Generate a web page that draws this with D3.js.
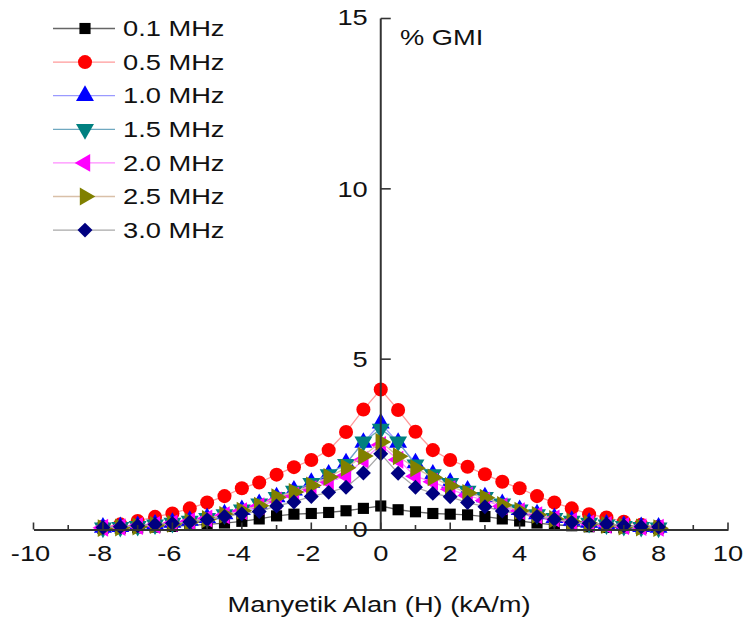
<!DOCTYPE html>
<html><head><meta charset="utf-8">
<script src="https://cdn.jsdelivr.net/npm/d3@7"></script>
<style>body{margin:0;background:#fff}svg{display:block}text{font-family:"Liberation Sans",Arial,sans-serif;fill:#111}</style>
</head><body>
<svg id="c" width="747" height="622"></svg>
<script>
const H = [-8,-7.5,-7,-6.5,-6,-5.5,-5,-4.5,-4,-3.5,-3,-2.5,-2,-1.5,-1,-0.5,0,0.5,1,1.5,2,2.5,3,3.5,4,4.5,5,5.5,6,6.5,7,7.5,8];
const f01 = [0.03,0.04,0.05,0.07,0.09,0.12,0.15,0.19,0.24,0.31,0.40,0.45,0.47,0.50,0.55,0.62,0.69,0.58,0.52,0.47,0.45,0.43,0.38,0.31,0.25,0.19,0.14,0.11,0.08,0.06,0.05,0.04,0.03];
const f05 = [0.08,0.15,0.25,0.37,0.47,0.62,0.79,0.98,1.21,1.38,1.61,1.83,2.04,2.33,2.86,3.52,4.11,3.51,2.87,2.33,2.04,1.84,1.62,1.40,1.21,0.98,0.79,0.62,0.45,0.35,0.23,0.14,0.08];
const f10 = [0.06,0.08,0.11,0.15,0.20,0.26,0.34,0.45,0.58,0.75,0.95,1.15,1.38,1.62,1.95,2.55,3.12,2.55,1.95,1.62,1.38,1.15,0.95,0.75,0.58,0.45,0.34,0.26,0.20,0.15,0.11,0.08,0.06];
const f15 = [0.05,0.07,0.10,0.14,0.19,0.25,0.33,0.44,0.58,0.76,0.95,1.13,1.36,1.62,1.92,2.58,2.95,2.58,1.90,1.62,1.36,1.13,0.95,0.76,0.58,0.44,0.33,0.25,0.19,0.14,0.10,0.07,0.05];
const f20 = [0.05,0.07,0.10,0.13,0.18,0.24,0.32,0.42,0.54,0.68,0.85,1.00,1.18,1.40,1.58,2.05,2.48,2.05,1.56,1.40,1.18,1.00,0.85,0.68,0.54,0.42,0.32,0.24,0.18,0.13,0.10,0.07,0.05];
const f25 = [0.04,0.06,0.09,0.13,0.17,0.23,0.31,0.43,0.55,0.70,0.95,1.10,1.29,1.54,1.81,2.16,2.57,2.15,1.80,1.53,1.28,1.07,0.93,0.72,0.55,0.43,0.31,0.23,0.17,0.13,0.09,0.06,0.04];
const f30 = [0.06,0.08,0.11,0.15,0.18,0.22,0.29,0.38,0.46,0.53,0.69,0.81,0.97,1.09,1.24,1.66,2.22,1.65,1.24,1.06,0.96,0.79,0.67,0.54,0.46,0.38,0.30,0.21,0.18,0.16,0.11,0.08,0.07];
const seriesNames = ["0.1 MHz","0.5 MHz","1.0 MHz","1.5 MHz","2.0 MHz","2.5 MHz","3.0 MHz"];
const seriesValues = [f01,f05,f10,f15,f20,f25,f30];
const markerColors = ["#000000","#ff0000","#0000ff","#008080","#ff00ff","#808000","#000080"];
const lineColors = ["#666666","#ff9a9a","#9a9aff","#6fa8c0","#ff8cff","#d9c0a8","#a8a8a8"];
const markerTypes = ["square","circle","up","down","left","right","diamond"];
const xTicks = [-10,-8,-6,-4,-2,0,2,4,6,8,10];
const yTicks = [0,5,10,15];

const svg = d3.select("#c");
const x = d3.scaleLinear().domain([-10,10]).range([33.5,728]);
const y = d3.scaleLinear().domain([0,15]).range([529.5,18.5]);
const axisColor = "#333";
const SX = 1.24;

function label(px, py, str, anchor){
  const g = svg.append("g").attr("transform",`translate(${px},${py}) scale(${SX},1)`);
  g.append("text").attr("x",0).attr("y",0).attr("dy","0.35em").attr("text-anchor",anchor||"start").attr("font-size",22).text(str);
  return g;
}

function sym(t, s){
  if(t==="square") return d3.symbol(d3.symbolSquare, s*0.8)();
  if(t==="circle") return d3.symbol(d3.symbolCircle, s)();
  if(t==="diamond") return d3.symbol(d3.symbolSquare, s*0.72)();
  return d3.symbol(d3.symbolTriangle, s*0.9)();
}
const rot = {up:0,down:180,left:-90,right:90,diamond:45};
function drawMarker(g, t, cx, cy, color){
  const p = g.append("path").attr("d", sym(t, 155)).attr("fill", color);
  let tr = `translate(${cx},${cy})`;
  if(rot[t]!==undefined) tr += ` rotate(${rot[t]})`;
  p.attr("transform", tr);
}

// series
const line = d3.line().x(d=>x(d[0])).y(d=>y(d[1]));
seriesValues.forEach((vals,i)=>{
  const pts = H.map((h,j)=>[h,vals[j]]);
  const g = svg.append("g");
  g.append("path").attr("d", line(pts)).attr("fill","none").attr("stroke",lineColors[i]).attr("stroke-width",1.3);
  pts.forEach(p=>drawMarker(g, markerTypes[i], x(p[0]), y(p[1]), markerColors[i]));
});

// x axis
const xAxis = d3.axisBottom(x).tickValues(d3.range(-10,11,1)).tickSize(0).tickFormat("");
const gx = svg.append("g").attr("transform",`translate(0,${y(0)})`).call(xAxis);
gx.select(".domain").attr("stroke",axisColor).attr("stroke-width",2);
d3.range(-10,11,1).forEach(v=>{
  const len = (v%2===0)?7:4.5;
  gx.append("line").attr("x1",x(v)).attr("x2",x(v)).attr("y1",0).attr("y2",-len).attr("stroke",axisColor).attr("stroke-width",1.6);
});
xTicks.forEach(v=>{
  label(x(v)+(v<0?-3:0), y(0)+24, v, "middle");
});

// y axis
const gy = svg.append("g").attr("transform",`translate(${x(0)},0)`);
gy.append("line").attr("x1",0).attr("x2",0).attr("y1",y(0)).attr("y2",y(15)).attr("stroke",axisColor).attr("stroke-width",2);
yTicks.forEach(v=>{
  if(v>0) gy.append("line").attr("x1",0).attr("x2",10).attr("y1",y(v)).attr("y2",y(v)).attr("stroke",axisColor).attr("stroke-width",1.6);
  label(x(0)-13, y(v)+(v===15?-1:0), v, "end");
});
label(400, 37, "% GMI");

// x title
label(379, 604, "Manyetik Alan (H) (kA/m)", "middle");

// legend
seriesNames.forEach((n,i)=>{
  const ly = 28.5 + i*33.6;
  const g = svg.append("g");
  g.append("line").attr("x1",53).attr("x2",115).attr("y1",ly).attr("y2",ly).attr("stroke",lineColors[i]).attr("stroke-width",1.3);
  drawMarker(g, markerTypes[i], 85, ly, markerColors[i]);
  label(123, ly, n);
});
</script>
</body></html>
